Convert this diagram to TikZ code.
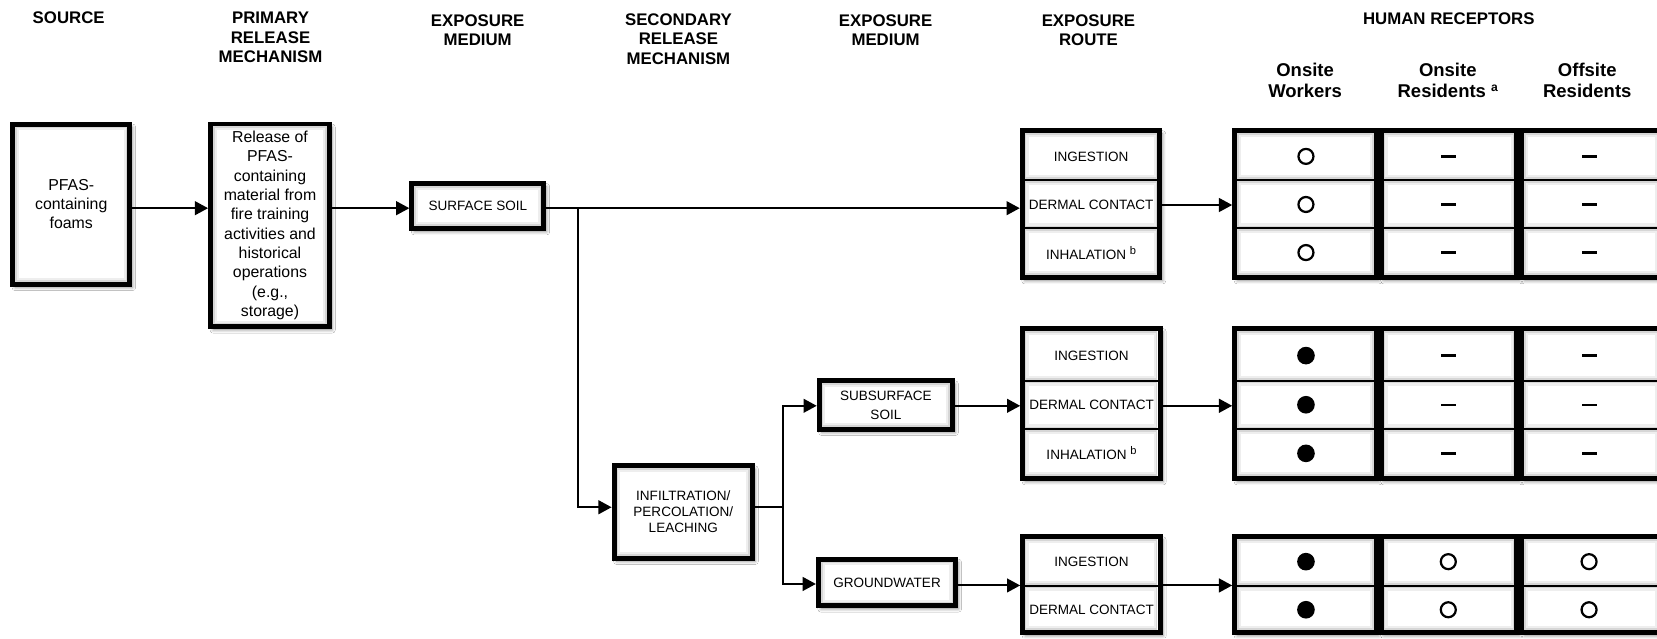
\documentclass[tikz,border=0pt]{standalone}
\usepackage{fontspec}
\setmainfont{Liberation Sans}
\usetikzlibrary{arrows.meta,shadows.blur}
\newcommand\myhdr{\fontsize{15.9}{18.5}\selectfont\bfseries}
\newcommand\myrh{\fontsize{17.5}{20}\selectfont\bfseries}
\newcommand\mytxt{\fontsize{15}{18.3}\selectfont}
\newcommand\mysm{\fontsize{12.8}{15.2}\selectfont}
\newcommand\supb{\ \raisebox{4.7pt}{\fontsize{10.5}{10.5}\selectfont b}}
\newcommand\supa{\ \raisebox{5.5pt}{\fontsize{11.5}{11.5}\selectfont\bfseries a}}
% inner bevel of a cell: x1 x2 y1 y2 (inner edges)
\newcommand\cellbev[4]{%
  \draw[gray!32, line width=1.6pt] (#1+0.8,#3+0.8) rectangle (#2-0.8,#4-0.8);
  \draw[gray!13, line width=2pt] (#1+2.6,#3+2.6) rectangle (#2-2.6,#4-2.6);}
\tikzset{
  box/.style={draw, line width=4.7pt, fill=white, inner sep=0pt, align=center,
    blur shadow={shadow xshift=2.5pt, shadow yshift=-3pt, shadow blur radius=3pt, shadow opacity=45}},
  arr/.style={line width=1.9pt, -{Triangle[length=12.5pt,width=13pt]}},
  ln/.style={line width=1.9pt},
  hdr/.style={font=\myhdr, align=center, inner sep=0pt},
  rh/.style={font=\myrh, align=center, inner sep=0pt},
  txt/.style={font=\mytxt, align=center},
  sm/.style={font=\mysm, align=center, inner sep=0pt},
  divline/.style={line width=2pt},
  fullcirc/.style={circle, fill=black, minimum size=16.7pt, inner sep=0pt},
  opencirc/.style={circle, draw=black, line width=2.1pt, minimum size=14.2pt, inner sep=0pt},
  nilmark/.style={fill=black, minimum width=14.2pt, minimum height=2.3pt, inner sep=0pt},
}
\begin{document}
\begin{tikzpicture}[x=1pt,y=-1pt]
\fill[white] (0,0) rectangle (1568,604);
\useasboundingbox (0,0) rectangle (1568,604);

% headers
\node[hdr] (h1) at (65,17) {SOURCE};
\node[hdr] (h2) at (256,35.5) {PRIMARY\\RELEASE\\MECHANISM};
\node[hdr] (h3) at (452,28.5) {EXPOSURE\\MEDIUM};
\node[hdr] (h4) at (642,37) {SECONDARY\\RELEASE\\MECHANISM};
\node[hdr] (h5) at (838,28.5) {EXPOSURE\\MEDIUM};
\node[hdr] (h6) at (1030,28.5) {EXPOSURE\\ROUTE};
\node[hdr] (h7) at (1371,18) {HUMAN RECEPTORS};
\node[rh] (r1) at (1235,76) {Onsite\\Workers};
\node[rh] (r2) at (1370,76) {Onsite\\Residents\supa};
\node[rh] (r3) at (1502,76) {Offsite\\Residents};

% main boxes
\node[box, txt, minimum width=111pt, minimum height=151.6pt] (src) at (67.4,193.2)
  {PFAS-\\containing\\foams};
\node[box, txt, minimum width=112.5pt, minimum height=191.9pt] (prim) at (255.5,213.3)
  {Release of\\PFAS-\\containing\\material from\\fire training\\activities and\\historical\\operations\\(e.g.,\\storage)};
\node[box, sm, minimum width=125pt, minimum height=42.6pt] (surf) at (452.2,195) {SURFACE SOIL};
\node[box, sm, minimum width=131pt, minimum height=87.4pt] (infil) at (646.6,484.5)
  {INFILTRATION/\\PERCOLATION/\\LEACHING};
\node[box, sm, font=\fontsize{12.8}{18}\selectfont, minimum width=126.2pt, minimum height=45.8pt] (subs) at (838.3,383.3)
  {SUBSURFACE\\SOIL};
\node[box, sm, minimum width=130pt, minimum height=44.1pt] (gw) at (839.4,551.2) {GROUNDWATER};

% exposure route tables
\node[box, minimum width=130.3pt, minimum height=139pt] (rt1) at (1032.5,193.2) {};
\node[box, minimum width=130.3pt, minimum height=142pt] (rt2) at (1032.9,381.9) {};
\node[box, minimum width=130.3pt, minimum height=90.7pt] (rt3) at (1032.9,553.3) {};

% receptor tables (three columns each)
\foreach \r/\cy/\h in {1/193.2/139, 2/381.9/142, 3/553.3/90.7}{
  \node[box, minimum width=134pt, minimum height=\h pt] (rc\r a) at (1235.35,\cy) {};
  \node[box, minimum width=128.4pt, minimum height=\h pt] (rc\r b) at (1371.25,\cy) {};
  \node[box, minimum width=132pt, minimum height=\h pt] (rc\r c) at (1506,\cy) {};
}

% inner bevels of the single boxes
\foreach \n in {src,prim,surf,infil,subs,gw}{
  \draw[gray!32, line width=1.6pt] ([xshift=5.5pt,yshift=-5.5pt]\n.north west) rectangle ([xshift=-5.5pt,yshift=5.5pt]\n.south east);
  \draw[gray!13, line width=2pt] ([xshift=7.3pt,yshift=-7.3pt]\n.north west) rectangle ([xshift=-7.3pt,yshift=7.3pt]\n.south east);
}
% inner bevels of the table cells
\foreach \xa/\xb in {969.7/1095.3, 1170.7/1300, 1309.4/1433.1, 1442.5/1569.6}{
  \foreach \ya/\yb in {126.1/169.3, 171.3/215, 217/260.3,
                       313.3/359.2, 361.2/405.2, 407.2/450.5,
                       510.3/553.2, 555.2/596.3}{
    \cellbev{\xa}{\xb}{\ya}{\yb}
  }
}

% row dividers
\foreach \yy in {170.3,216,360.2,406.2,554.2}{
  \draw[divline] (966,\yy) -- (1099,\yy);
  \draw[divline] (1167,\yy) -- (1575,\yy);
}

% route labels
\node[sm] (t11) at (1032.5,148) {INGESTION};
\node[sm] (t12) at (1032.5,193.5) {DERMAL CONTACT};
\node[sm] (t13) at (1032.5,239) {INHALATION\supb};
\node[sm] (t21) at (1032.9,336.5) {INGESTION};
\node[sm] (t22) at (1032.9,383) {DERMAL CONTACT};
\node[sm] (t23) at (1032.9,429) {INHALATION\supb};
\node[sm] (t31) at (1032.9,531.5) {INGESTION};
\node[sm] (t32) at (1032.9,577) {DERMAL CONTACT};

% receptor marks
\foreach \yy [count=\i] in {148,193.5,239}{
  \node[opencirc] (m1a\i) at (1235.8,\yy) {};
  \node[nilmark] (m1b\i) at (1370.5,\yy) {};
  \node[nilmark] (m1c\i) at (1503.7,\yy) {};
}
\foreach \yy [count=\i] in {336.5,383,429}{
  \node[fullcirc] (m2a\i) at (1235.8,\yy) {};
  \node[nilmark] (m2b\i) at (1370.5,\yy) {};
  \node[nilmark] (m2c\i) at (1503.7,\yy) {};
}
\foreach \yy [count=\i] in {531.5,577}{
  \node[fullcirc] (m3a\i) at (1235.8,\yy) {};
  \node[opencirc] (m3b\i) at (1370.5,\yy) {};
  \node[opencirc] (m3c\i) at (1503.7,\yy) {};
}

% connector levels
\coordinate (ya) at (0,197);
\coordinate (yb) at (0,480);
\coordinate (yc) at (0,384);
\coordinate (yd) at (0,552.6);
\coordinate (ye) at (0,194);
\coordinate (yf) at (0,554);
\coordinate (bx) at (547,197);
\coordinate (vx) at (741.2,480);

\draw[arr] (src.east|-ya) -- (prim.west|-ya);
\draw[arr] (prim.east|-ya) -- (surf.west|-ya);
\draw[arr] (surf.east|-ya) -- (rt1.west|-ya);
\draw[arr] (bx) |- (infil.west|-yb);
\draw[ln] (infil.east|-yb) -- (vx);
\draw[arr] (vx) |- (subs.west|-yc);
\draw[arr] (vx) |- (gw.west|-yd);
\draw[arr] (subs.east|-yc) -- (rt2.west|-yc);
\draw[arr] (gw.east|-yf) -- (rt3.west|-yf);
\draw[arr] (rt1.east|-ye) -- (rc1a.west|-ye);
\draw[arr] (rt2.east|-yc) -- (rc2a.west|-yc);
\draw[arr] (rt3.east|-yf) -- (rc3a.west|-yf);
\end{tikzpicture}
\end{document}
